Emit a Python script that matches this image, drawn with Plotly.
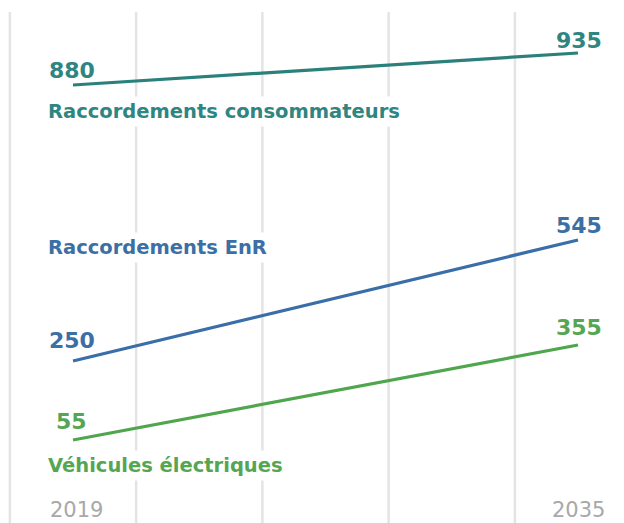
import plotly.graph_objects as go

years = [2019, 2035]
series_names = ["Raccordements consommateurs", "Raccordements EnR", "Véhicules électriques"]
consommateurs = [880, 935]
enr = [250, 545]
vehicules = [55, 355]
grid_years = [2017, 2021, 2025, 2029, 2033]
year_labels = ["2019", "2035"]

W, H = 624, 523
colors = ["#2b807b", "#3a6ea8", "#4fa64d"]
label_colors = ["#2f8580", "#3c6fa4", "#55a653"]
font_family = "DejaVu Sans"

fig = go.Figure()
series = [consommateurs, enr, vehicules]
yaxes = ["y", "y2", "y3"]
for vals, c, ya, name in zip(series, colors, yaxes, series_names):
    fig.add_trace(go.Scatter(x=years, y=vals, mode="lines", yaxis=ya, name=name,
                             line=dict(color=c, width=3.2), showlegend=False, hoverinfo="skip"))

# vertical gridlines
for gy in grid_years:
    fig.add_shape(type="line", xref="x", yref="paper", x0=gy, x1=gy, y0=0, y1=1 - 12 / H,
                  line=dict(color="#e4e4e4", width=2.5), layer="below")

# value labels
offsets = [  # (start xshift, start yshift, end xshift, end yshift)
    (-26, 15, 26, 13),
    (-26, 20, 26, 14),
    (-19, 19, 26, 18),
]
for vals, c, ya, off in zip(series, label_colors, ["y", "y2", "y3"], offsets):
    fig.add_annotation(x=years[0], y=vals[0], xref="x", yref=ya, text=f"<b>{vals[0]}</b>",
                       showarrow=False, xanchor="left", yanchor="middle",
                       xshift=off[0], yshift=off[1], font=dict(family=font_family, size=22, color=c))
    fig.add_annotation(x=years[1], y=vals[1], xref="x", yref=ya, text=f"<b>{vals[1]}</b>",
                       showarrow=False, xanchor="right", yanchor="middle",
                       xshift=off[2], yshift=off[3], font=dict(family=font_family, size=22, color=c))

# series name labels (white background)
name_pos = [111, 247, 465]
for name, c, py in zip(series_names, label_colors, name_pos):
    fig.add_annotation(x=44 / W, y=1 - py / H, xref="paper", yref="paper", text=f"<b>{name}</b>",
                       showarrow=False, xanchor="left", yanchor="middle", bgcolor="white",
                       borderpad=3, font=dict(family=font_family, size=19.5, color=c))

# year labels
for yl, xa in zip(year_labels, ["left", "right"]):
    fig.add_annotation(x=int(yl), y=1 - 510 / H, xref="x", yref="paper", text=yl,
                       showarrow=False, xanchor=xa, yanchor="middle",
                       xshift=-25 if xa == "left" else 29,
                       font=dict(family=font_family, size=21, color="#a8a8a8"))

fig.update_layout(
    width=W, height=H,
    margin=dict(l=0, r=0, t=0, b=0),
    paper_bgcolor="white", plot_bgcolor="white",
    xaxis=dict(range=[2016.687, 2036.457], showgrid=False, zeroline=False,
               showticklabels=False, fixedrange=True),
    yaxis=dict(range=[127.2, 1026.1], visible=False),
    yaxis2=dict(range=[-145.0, 1130.1], visible=False, overlaying="y"),
    yaxis3=dict(range=[-207.1, 1444.5], visible=False, overlaying="y"),
)

fig.write_html("out.html", config={"displayModeBar": False},
               post_script="document.body.style.margin='0';document.body.style.overflow='hidden';")
